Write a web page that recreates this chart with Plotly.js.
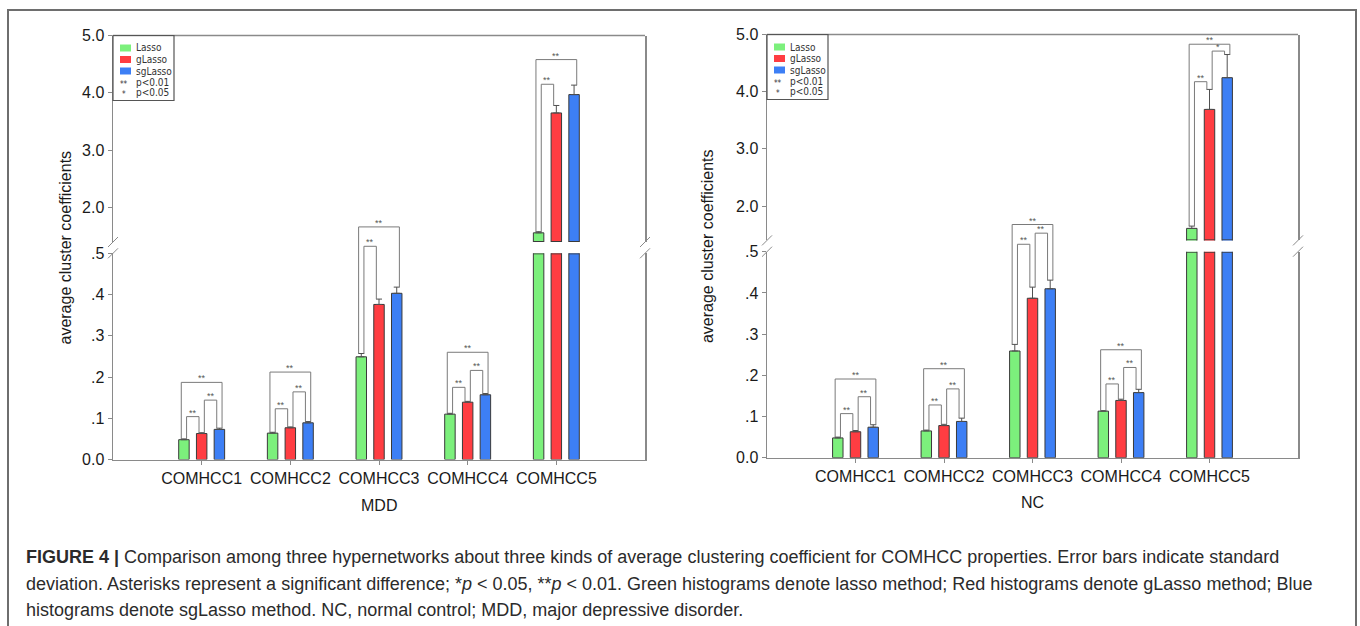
<!DOCTYPE html>
<html>
<head>
<meta charset="utf-8">
<script src="https://cdn.plot.ly/plotly-3.0.1.min.js"></script>
<style>
html,body{margin:0;padding:0;background:#ffffff;}
#chart{width:1360px;height:626px;}
</style>
</head>
<body>
<div id="chart"></div>
<script>
// ---------------- DATA ----------------
const categories = ['COMHCC1', 'COMHCC2', 'COMHCC3', 'COMHCC4', 'COMHCC5'];
const seriesNames = ['Lasso', 'gLasso', 'sgLasso'];

// MDD panel (means and standard deviations)
const mddLasso     = [0.048, 0.064, 0.249, 0.110, 1.56];
const mddGLasso    = [0.063, 0.077, 0.376, 0.139, 3.65];
const mddSgLasso   = [0.073, 0.089, 0.403, 0.157, 3.97];
const mddLassoSd   = [0.002, 0.002, 0.008, 0.002, 0.02];
const mddGLassoSd  = [0.002, 0.002, 0.013, 0.002, 0.13];
const mddSgLassoSd = [0.003, 0.003, 0.015, 0.003, 0.165];

// NC panel
const ncLasso     = [0.048, 0.065, 0.259, 0.113, 1.61];
const ncGLasso    = [0.063, 0.078, 0.387, 0.139, 3.69];
const ncSgLasso   = [0.074, 0.088, 0.410, 0.158, 4.245];
const ncLassoSd   = [0.002, 0.002, 0.016, 0.001, 0.04];
const ncGLassoSd  = [0.003, 0.003, 0.027, 0.003, 0.35];
const ncSgLassoSd = [0.006, 0.008, 0.021, 0.008, 0.405];

const noDownErr = [0, 0, 0, 0, 0];

// significance brackets: [category index, left series, right series, bracket height, marks]
const mddBrackets = [
  [0, 0, 1, 0.104, '**'], [0, 1, 2, 0.144, '**'], [0, 0, 2, 0.187, '**'],
  [1, 0, 1, 0.123, '**'], [1, 1, 2, 0.164, '**'], [1, 0, 2, 0.212, '**'],
  [2, 0, 1, 0.517, '**'], [2, 0, 2, 0.564, '**'],
  [3, 0, 1, 0.175, '**'], [3, 1, 2, 0.216, '**'], [3, 0, 2, 0.260, '**'],
  [4, 0, 1, 4.15, '**'], [4, 0, 2, 4.58, '**']
];
const ncBrackets = [
  [0, 0, 1, 0.107, '**'], [0, 1, 2, 0.148, '**'], [0, 0, 2, 0.191, '**'],
  [1, 0, 1, 0.128, '**'], [1, 1, 2, 0.167, '**'], [1, 0, 2, 0.216, '**'],
  [2, 0, 1, 0.518, '**'], [2, 1, 2, 0.545, '**'], [2, 0, 2, 0.566, '**'],
  [3, 0, 1, 0.179, '**'], [3, 1, 2, 0.219, '**'], [3, 0, 2, 0.262, '**'],
  [4, 0, 1, 4.175, '**'], [4, 1, 2, 4.71, '*'], [4, 0, 2, 4.83, '**']
];

const lowerTickVals = [0, 0.1, 0.2, 0.3, 0.4, 0.5];
const lowerTickText = ['0.0', '.1', '.2', '.3', '.4', '.5'];
const upperTickVals = [2, 3, 4, 5];
const upperTickText = ['2.0', '3.0', '4.0', '5.0'];
const lowerRange = [0, 0.5];
const upperRange = [1.4, 5.0];

const panelNames = ['MDD', 'NC'];
const yTitleText = 'average cluster coefficients';
const legendMarks = ['**', '*'];
const legendMarkLabels = ['p<0.01', 'p<0.05'];
const captionLines = [
  '<b>FIGURE 4 |</b> Comparison among three hypernetworks about three kinds of average clustering coefficient for COMHCC properties. Error bars indicate standard',
  'deviation. Asterisks represent a significant difference; *<i>p</i> &lt; 0.05, **<i>p</i> &lt; 0.01. Green histograms denote lasso method; Red histograms denote gLasso method; Blue',
  'histograms denote sgLasso method. NC, normal control; MDD, major depressive disorder.'
];

// ---------------- STYLE / LAYOUT ----------------
const W = 1360, H = 626;
const px = x => x / W;
const py = y => 1 - y / H;
const FONT = 'Liberation Sans, Arial, Helvetica, sans-serif';
const NARROW = 'Liberation Sans Narrow, Arial Narrow, DejaVu Sans Condensed, sans-serif';
const colors = ['#7cf07c', '#ff3d42', '#3d7ff5'];
const barLine = '#3a3a3a';
const axisColor = '#8a8a8a';
const BARGAP = 0.4;
const BARGROUPGAP = 0.41;
const slot = (1 - BARGAP) / 3;
const halfBar = slot * (1 - BARGROUPGAP) / 2;

const panels = [
  {
    name: panelNames[0], vals: [mddLasso, mddGLasso, mddSgLasso], sds: [mddLassoSd, mddGLassoSd, mddSgLassoSd],
    brackets: mddBrackets, xDom: [113, 645], lowPx: [459.5, 253.3], upPx: [242, 35.5],
    ids: {x: 'x', lo: 'y', up: 'y2', br: 'y3'}, yTitleX: 65, xTitleY: 505
  },
  {
    name: panelNames[1], vals: [ncLasso, ncGLasso, ncSgLasso], sds: [ncLassoSd, ncGLassoSd, ncSgLassoSd],
    brackets: ncBrackets, xDom: [767, 1298], lowPx: [457.7, 251.7], upPx: [240.4, 34.5],
    ids: {x: 'x2', lo: 'y4', up: 'y5', br: 'y6'}, yTitleX: 707, xTitleY: 503
  }
];

const axKey = id => (id[0] === 'x' ? 'xaxis' : 'yaxis') + id.slice(1);
const catIdx = categories.map((c, i) => i);

const traces = [];
const shapes = [];
const annotations = [];
const layout = {
  width: W, height: H,
  margin: {l: 0, r: 0, t: 0, b: 0},
  paper_bgcolor: '#ffffff',
  plot_bgcolor: 'rgba(0,0,0,0)',
  showlegend: false,
  barmode: 'group',
  bargap: BARGAP,
  bargroupgap: BARGROUPGAP,
  font: {family: FONT, color: '#1a1a1a'},
  shapes: shapes,
  annotations: annotations
};

const baseY = {
  showline: true, linecolor: axisColor, linewidth: 1.5, mirror: true,
  ticks: 'outside', ticklen: 4, tickcolor: axisColor, tickwidth: 1,
  showgrid: false, zeroline: false, fixedrange: true,
  tickfont: {family: FONT, size: 16, color: '#1a1a1a'}
};

panels.forEach(p => {
  const xDomain = [px(p.xDom[0]), px(p.xDom[1])];
  const lo = [py(p.lowPx[0]), py(p.lowPx[1])];
  const up = [py(p.upPx[0]), py(p.upPx[1])];
  const brTop = lowerRange[1] * (up[1] - lo[0]) / (lo[1] - lo[0]);

  layout[axKey(p.ids.x)] = {
    domain: xDomain, anchor: p.ids.lo, range: [-1, 5],
    tickmode: 'array', tickvals: catIdx, ticktext: categories,
    showline: true, linecolor: axisColor, linewidth: 1.5,
    ticks: 'outside', ticklen: 4, tickcolor: axisColor,
    showgrid: false, zeroline: false, fixedrange: true,
    tickfont: {family: FONT, size: 16, color: '#1a1a1a'}
  };
  layout[axKey(p.ids.lo)] = Object.assign({}, baseY, {
    domain: lo, anchor: p.ids.x, range: lowerRange,
    tickmode: 'array', tickvals: lowerTickVals, ticktext: lowerTickText
  });
  layout[axKey(p.ids.up)] = Object.assign({}, baseY, {
    domain: up, anchor: p.ids.x, range: upperRange,
    tickmode: 'array', tickvals: upperTickVals, ticktext: upperTickText
  });
  layout[axKey(p.ids.br)] = {
    domain: [lo[0], up[1]], anchor: p.ids.x, range: [0, brTop],
    visible: false, fixedrange: true, showgrid: false, zeroline: false
  };

  // bars drawn on both segments of the broken axis
  [p.ids.lo, p.ids.up].forEach(yid => {
    p.vals.forEach((vals, k) => {
      traces.push({
        type: 'bar', x: catIdx, y: vals, name: seriesNames[k],
        xaxis: p.ids.x, yaxis: yid,
        marker: {color: colors[k], line: {color: barLine, width: 1}},
        error_y: {type: 'data', symmetric: false, array: p.sds[k], arrayminus: noDownErr,
                  color: '#505050', thickness: 1, width: 3},
        showlegend: false, hoverinfo: 'skip'
      });
    });
  });
  // carrier for the bracket overlay axis
  traces.push({type: 'scatter', mode: 'lines', x: [], y: [], xaxis: p.ids.x, yaxis: p.ids.br,
               showlegend: false, hoverinfo: 'skip'});

  // closing edges of bars cut by the axis break
  p.vals.forEach((vals, k) => {
    vals.forEach((v, c) => {
      if (v > upperRange[0]) {
        const xc = c + (k - 1) * slot;
        [[p.ids.lo, lowerRange[1], -0.5], [p.ids.up, upperRange[0], 0.5]].forEach(([yid, yv, sh]) => {
          shapes.push({type: 'line', xref: p.ids.x, yref: yid, x0: xc - halfBar, x1: xc + halfBar,
                       ysizemode: 'pixel', yanchor: yv, y0: sh, y1: sh,
                       line: {color: barLine, width: 1}});
        });
      }
    });
  });

  // significance brackets
  const off = 0.03;
  p.brackets.forEach(b => {
    const [c, a, r, h, mark] = b;
    const outer = (r - a) === 2;
    const xa = c + (a - 1) * slot + (outer ? -off : off);
    const xb = c + (r - 1) * slot + (outer ? off : -off);
    const ya = p.vals[a][c] + p.sds[a][c];
    const yb = p.vals[r][c] + p.sds[r][c];
    const yref = h > upperRange[0] ? p.ids.up : p.ids.br;
    shapes.push({
      type: 'path', xref: p.ids.x, yref: yref, layer: 'above',
      path: `M${xa},${ya} L${xa},${h} L${xb},${h} L${xb},${yb}`,
      line: {color: '#7a7a7a', width: 1}
    });
    annotations.push({
      xref: p.ids.x, yref: yref, x: (xa + xb) / 2, y: h, text: mark,
      showarrow: false, yanchor: 'middle', xanchor: 'center', yshift: 4, borderpad: 0,
      font: {family: FONT, size: 9, color: '#555555'}
    });
  });

  // top border of the plot frame
  shapes.push({type: 'line', xref: p.ids.x + ' domain', yref: p.ids.up + ' domain',
               x0: 0, x1: 1, y0: 1, y1: 1, line: {color: axisColor, width: 1.5}});
  // axis-break marks on left and right sides
  [0, 1].forEach(xs => {
    [[p.ids.lo, 1], [p.ids.up, 0]].forEach(([yid, ys]) => {
      shapes.push({type: 'line', xref: p.ids.x + ' domain', yref: yid + ' domain',
                   xsizemode: 'pixel', xanchor: xs, x0: -5, x1: 5,
                   ysizemode: 'pixel', yanchor: ys, y0: -5, y1: 5,
                   line: {color: axisColor, width: 1}});
    });
  });

  // legend box
  const xr = p.ids.x + ' domain', yr = p.ids.up + ' domain';
  shapes.push({type: 'rect', xref: xr, yref: yr, xsizemode: 'pixel', ysizemode: 'pixel',
               xanchor: 0, yanchor: 1, x0: 0, x1: 61, y0: 0, y1: -65,
               line: {color: '#555555', width: 1.2}, fillcolor: 'rgba(0,0,0,0)'});
  const rowY = [12.5, 24, 35.5, 46.5, 56.5];
  seriesNames.forEach((s, k) => {
    shapes.push({type: 'rect', xref: xr, yref: yr, xsizemode: 'pixel', ysizemode: 'pixel',
                 xanchor: 0, yanchor: 1, x0: 7, x1: 18, y0: -rowY[k] - 3.5, y1: -rowY[k] + 3.5,
                 line: {width: 0}, fillcolor: colors[k]});
    annotations.push({xref: xr, yref: yr, x: 0, y: 1, xshift: 22, yshift: -rowY[k],
                      xanchor: 'left', yanchor: 'middle', showarrow: false, text: s, borderpad: 0,
                      font: {family: NARROW, size: 10, color: '#333333'}});
  });
  legendMarks.forEach((m, j) => {
    annotations.push({xref: xr, yref: yr, x: 0, y: 1, xshift: 11, yshift: -rowY[3 + j] - 2,
                      xanchor: 'center', yanchor: 'middle', showarrow: false, text: m, borderpad: 0,
                      font: {family: NARROW, size: 8, color: '#333333'}});
    annotations.push({xref: xr, yref: yr, x: 0, y: 1, xshift: 22, yshift: -rowY[3 + j],
                      xanchor: 'left', yanchor: 'middle', showarrow: false, text: legendMarkLabels[j],
                      borderpad: 0, font: {family: NARROW, size: 10, color: '#333333'}});
  });

  // axis titles
  annotations.push({xref: 'paper', yref: 'paper', x: px(p.yTitleX), y: py((p.upPx[1] + p.lowPx[0]) / 2),
                    text: yTitleText, textangle: -90, showarrow: false,
                    xanchor: 'center', yanchor: 'middle',
                    font: {family: FONT, size: 16, color: '#1a1a1a'}});
  annotations.push({xref: 'paper', yref: 'paper', x: (xDomain[0] + xDomain[1]) / 2, y: py(p.xTitleY),
                    text: p.name, showarrow: false, xanchor: 'center', yanchor: 'middle',
                    font: {family: FONT, size: 16, color: '#1a1a1a'}});
});

// figure frame
shapes.push({type: 'path', xref: 'paper', yref: 'paper',
             path: `M${px(8)},${py(660)} L${px(8)},${py(10)} L${px(1356)},${py(10)} L${px(1356)},${py(660)}`,
             line: {color: '#6e6e6e', width: 2}});

// caption
const capY = [557, 583.5, 610];
captionLines.forEach((t, i) => {
  annotations.push({xref: 'paper', yref: 'paper', x: px(24), y: py(capY[i]),
                    xanchor: 'left', yanchor: 'middle', showarrow: false, text: t,
                    font: {family: FONT, size: 18, color: '#2b2b2b'}});
});

Plotly.newPlot('chart', traces, layout, {displayModeBar: false, staticPlot: true});
</script>
</body>
</html>
